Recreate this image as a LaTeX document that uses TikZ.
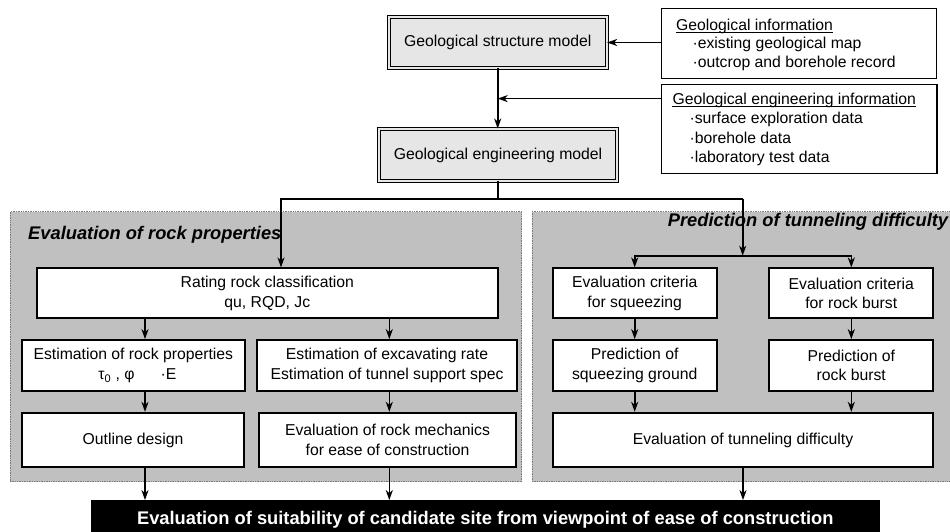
\documentclass[tikz,border=0pt]{standalone}
\usepackage{fontspec}
\setmainfont{Liberation Sans}
\usetikzlibrary{arrows.meta}
\definecolor{panelgray}{HTML}{C0C0C0}
\definecolor{paneledge}{HTML}{7A7A7A}
\definecolor{modelgray}{HTML}{E6E6E6}
\begin{document}
\begin{tikzpicture}[x=1pt,y=-1pt,
  txt/.style={font=\fontsize{15.75}{19.5}\selectfont},
  box/.style={draw=black, line width=1.7pt, fill=white, align=center, inner sep=0pt, txt},
  modelbox/.style={draw=black, line width=0.9pt, double=modelgray, double distance=1.8pt,
                   fill=modelgray, align=center, inner sep=0pt, txt},
  infobox/.style={draw=black, line width=1.4pt, fill=white, inner sep=0pt},
  infotext/.style={txt, anchor=base west, inner sep=0pt},
  panel/.style={draw=paneledge, densely dotted, line width=0.7pt, fill=panelgray, inner sep=0pt},
  paneltitle/.style={font=\fontsize{18.3}{22}\selectfont\bfseries\itshape, inner sep=0pt},
  conn/.style={line width=1.6pt},
  arr/.style={conn, -{Stealth[length=10pt,width=7pt,inset=3pt]}},
]
\clip (0,0) rectangle (950,531);

% shaded panels
\node[panel, minimum width=511.7pt, minimum height=270.2pt] (lpanel) at (265.85,346.6) {};
\node[panel, minimum width=422pt, minimum height=270.2pt] (rpanel) at (743,346.6) {};
\node[paneltitle, anchor=base west] (ltitle) at (28,239.5) {Evaluation of rock properties};
\node[paneltitle, anchor=base east] (rtitle) at (948.3,226) {Prediction of tunneling difficulty};

% models
\node[modelbox, minimum width=218pt, minimum height=51pt] (gsm) at (497.7,42.5) {Geological structure model};
\node[modelbox, minimum width=238pt, minimum height=52pt] (gem) at (498,155) {Geological engineering model};

% information sources
\node[infobox, minimum width=275pt, minimum height=70pt] (info1) at (799.2,43.3) {};
\node[infotext] (gi) at (676,30.5) {Geological information};
\draw[line width=0.9pt] ([yshift=-2.2pt]gi.base west) -- ([yshift=-2.2pt]gi.base east);
\node[infotext] (gi1) at (692.3,48.8) {·existing geological map};
\node[infotext] (gi2) at (692.3,67.8) {·outcrop and borehole record};

\node[infobox, minimum width=275.3pt, minimum height=89pt] (info2) at (799.3,128.8) {};
\node[infotext] (gei) at (672.3,104.5) {Geological engineering information};
\draw[line width=0.9pt] ([yshift=-2.2pt]gei.base west) -- ([yshift=-2.2pt]gei.base east);
\node[infotext] (gei1) at (689.3,123.8) {·surface exploration data};
\node[infotext] (gei2) at (689.3,143.3) {·borehole data};
\node[infotext] (gei3) at (689.3,162.5) {·laboratory test data};

% rock properties branch
\node[box, minimum width=461.3pt, minimum height=50pt] (rating) at (267.3,293.3)
  {Rating rock classification\\ qu, RQD, Jc};
\node[box, minimum width=223.3pt, minimum height=51pt] (erp) at (133.3,365.5)
  {Estimation of rock properties\\ \hspace*{8pt}τ\textsubscript{0} , φ\hspace{26pt}·E};
\node[box, minimum width=259.4pt, minimum height=51pt] (eer) at (387,365.5)
  {Estimation of excavating rate\\ Estimation of tunnel support spec};
\node[box, minimum width=222.6pt, minimum height=54.6pt] (od) at (133,440) {Outline design};
\node[box, minimum width=257pt, minimum height=54.6pt] (erm) at (387.5,440)
  {Evaluation of rock mechanics\\ for ease of construction};

% tunneling difficulty branch
\node[box, minimum width=164pt, minimum height=50pt] (ecs) at (634.7,293.3)
  {Evaluation criteria\\ for squeezing};
\node[box, minimum width=164pt, minimum height=50pt] (ecb) at (851.3,293.3)
  {Evaluation criteria\\ for rock burst};
\node[box, minimum width=164pt, minimum height=51pt] (psg) at (634.7,365.5)
  {Prediction of\\ squeezing ground};
\node[box, minimum width=164pt, minimum height=51pt] (prb) at (851.3,365.5)
  {Prediction of\\ rock burst};
\node[box, minimum width=380.6pt, minimum height=54.6pt] (etd) at (743,440)
  {Evaluation of tunneling difficulty};

% final evaluation
\node[fill=black, text=white, inner sep=0pt, minimum width=789.3pt, minimum height=36pt,
      text depth=0pt, font=\fontsize{18.3}{22}\selectfont\bfseries] (bar) at (485.3,518.3)
  {Evaluation of suitability of candidate site from viewpoint of ease of construction};

% connectors: inputs to the models
\draw[arr] (info1.west |- gsm.east) -- (gsm.east);
\draw[arr] (gsm.south) -- (gsm.south |- gem.north);
\coordinate (feed) at ([yshift=-15pt]info2.north west);
\draw[arr] (feed) -- (feed -| gsm.south);

% split into the two branches
\coordinate (hl) at (281,199);
\coordinate (hr) at (742.7,199);
\coordinate (rj) at (742.7,255.7);
\draw[conn] (gem.south) -- (gem.south |- hl);
\draw[arr] (hr) -- (hl) -- (hl |- rating.north);
\draw[arr] (hr) -- (rj);
\draw[arr] (rj) -| (ecs.north);
\draw[arr] (rj) -| (ecb.north);

% rock properties branch
\coordinate (cA) at (145,0);
\coordinate (cB) at (389.3,0);
\draw[arr] (rating.south -| cA) -- (erp.north -| cA);
\draw[arr] (rating.south -| cB) -- (eer.north -| cB);
\draw[arr] (erp.south -| cA) -- (od.north -| cA);
\draw[arr] (eer.south -| cB) -- (erm.north -| cB);
\draw[arr] (od.south -| cA) -- (bar.north -| cA);
\draw[arr] (erm.south -| cB) -- (bar.north -| cB);

% tunneling difficulty branch
\draw[arr] (ecs.south) -- (psg.north);
\draw[arr] (ecb.south) -- (prb.north);
\draw[arr] (psg.south) -- (etd.north -| psg.south);
\draw[arr] (prb.south) -- (etd.north -| prb.south);
\draw[arr] (etd.south) -- (bar.north -| etd.south);
\end{tikzpicture}
\end{document}
